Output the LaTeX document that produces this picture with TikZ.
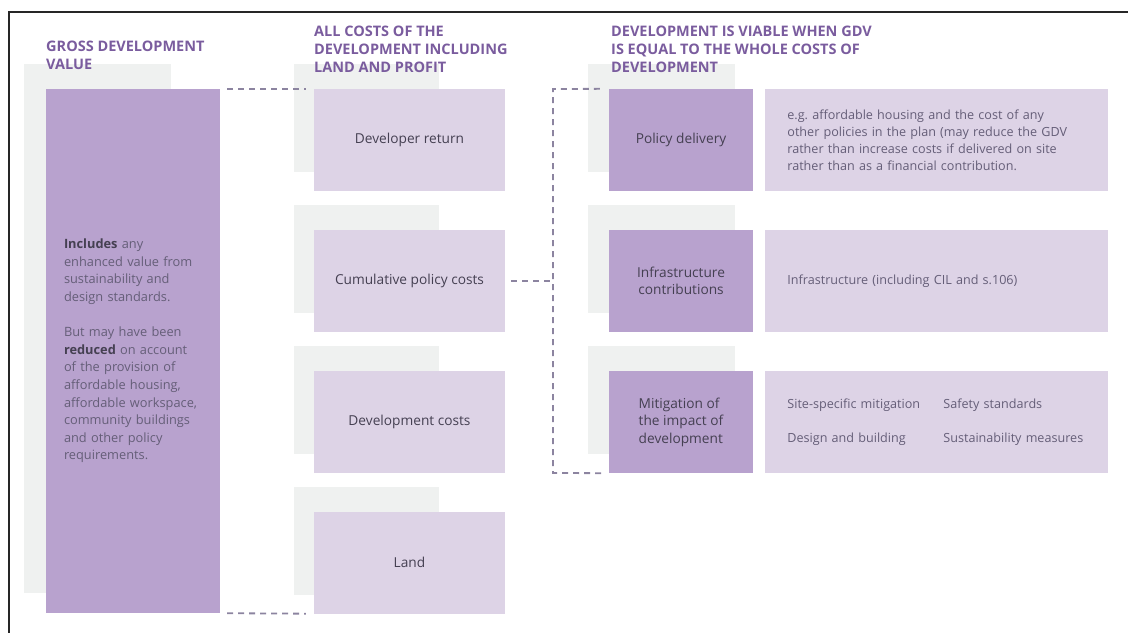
\documentclass[tikz,border=0pt]{standalone}
\usepackage{fontspec}
\setmainfont{Open Sans}
\usepackage{xcolor}
\usetikzlibrary{positioning}
\definecolor{gdvpurple}{HTML}{B8A2CE}
\definecolor{costlilac}{HTML}{DDD3E6}
\definecolor{backgrey}{HTML}{EFF1F0}
\definecolor{headpurple}{HTML}{7A5C9E}
\definecolor{textgrey}{HTML}{454052}
\definecolor{descgrey}{HTML}{655E78}
\definecolor{dashgrey}{HTML}{8C84A0}
\tikzset{fontscale/.style = {font=\fontsize{13.7}{17.5}\selectfont}}
\tikzstyle{cdark}=[rectangle, fill=gdvpurple, text=textgrey, align=center, fontscale, inner sep=0pt]
\tikzstyle{clight}=[rectangle, fill=costlilac, text=textgrey, align=center, fontscale, inner sep=0pt]
\tikzstyle{cback}=[rectangle, fill=backgrey, inner sep=0pt]
\tikzstyle{cdesc}=[rectangle, fill=costlilac, text=descgrey, align=left, font=\fontsize{12.6}{17}\selectfont, text width=299pt, inner xsep=22pt, inner ysep=0pt]
\tikzstyle{heading}=[rectangle, text=headpurple, align=left, anchor=base west, inner sep=0pt, font=\fontsize{14.5}{18}\selectfont\bfseries]

\begin{document}
\begin{tikzpicture}[x=1pt, y=-1pt, dashlink/.style={dashgrey, line width=1.8pt, dash pattern=on 6pt off 5pt}]

\useasboundingbox (0,0) rectangle (1128,633);

% frame
\draw[line width=1.6pt, black!85] (1128,12) -- (9,12) -- (9,633);

%back boxes
\node[cback, minimum width=147, minimum height=529] (b0) at (97.5,328.5) {};
\node[cback, minimum width=145, minimum height=108] (b1) at (366.5,118) {};
\node[cback, minimum width=145, minimum height=108] (b2) at (366.5,259) {};
\node[cback, minimum width=145, minimum height=108] (b3) at (366.5,400) {};
\node[cback, minimum width=145, minimum height=108] (b4) at (366.5,541) {};
\node[cback, minimum width=147, minimum height=108] (b5) at (661.5,118) {};
\node[cback, minimum width=147, minimum height=108] (b6) at (661.5,259) {};
\node[cback, minimum width=147, minimum height=108] (b7) at (661.5,400) {};

% gross development value
\node[cdark, minimum width=174, minimum height=524, text width=138pt, align=left, text=descgrey,
  font=\fontsize{12.8}{17.6}\selectfont] (gdv) at (133,351)
  {\textbf{\color{textgrey}Includes} any\\ enhanced value from\\ sustainability and\\ design standards.\\[17.6pt]
   But may have been\\ \textbf{\color{textgrey}reduced} on account\\ of the provision of\\ affordable housing,\\
   affordable workspace,\\ community buildings\\ and other policy\\ requirements.};

% costs
\node[clight, minimum width=191, minimum height=102] (ret) at (409.5,140) {Developer return};
\node[clight, minimum width=191, minimum height=102] (cum) at (409.5,281) {Cumulative policy costs};
\node[clight, minimum width=191, minimum height=102] (dev) at (409.5,422) {Development costs};
\node[clight, minimum width=191, minimum height=102] (land) at (409.5,562.5) {Land};

% viability
\node[cdark, minimum width=144, minimum height=102] (pol) at (681,140) {Policy delivery};
\node[cdark, minimum width=144, minimum height=102] (inf) at (681,281) {Infrastructure\\ contributions};
\node[cdark, minimum width=144, minimum height=102, align=left] (mit) at (681,422) {Mitigation of\\ the impact of\\ development};

\node[cdesc, minimum height=102, right=12pt of pol] (d1)
  {e.g.\ affordable housing and the cost of any\\ other policies in the plan (may reduce the GDV\\
   rather than increase costs if delivered on site\\ rather than as a financial contribution.};
\node[cdesc, minimum height=102, right=12pt of inf] (d2) {Infrastructure (including CIL and s.106)};
\node[cdesc, minimum height=102, right=12pt of mit] (d3)
  {\begin{tabular}{@{}p{156pt}@{}l@{}}
   Site-specific mitigation & Safety standards\\[17pt]
   Design and building & Sustainability measures
   \end{tabular}};

 % Links
  \coordinate (ja) at (553,89);
  \coordinate (jb) at (553,473);
  \path[dashlink, shorten <=7pt, shorten >=8pt] (gdv.north east) edge (ret.north west);
  \path[dashlink, shorten <=7pt, shorten >=8pt] (gdv.south east) edge (land.south west);
  \path[dashlink, shorten <=6pt] (cum.east) edge (cum.east -| ja);
  \draw[dashlink, shorten <=9pt, shorten >=7pt] (pol.north west) -- (ja) -- (jb) -- (mit.south west);

 % Headings
  \node[heading] (h1) at (46,69) {GROSS DEVELOPMENT\\ VALUE};
  \node[heading] (h2) at (314,72) {ALL COSTS OF THE\\ DEVELOPMENT INCLUDING\\ LAND AND PROFIT};
  \node[heading] (h3) at (611,72) {DEVELOPMENT IS VIABLE WHEN GDV\\ IS EQUAL TO THE WHOLE COSTS OF\\ DEVELOPMENT};
\end{tikzpicture}
\end{document}
